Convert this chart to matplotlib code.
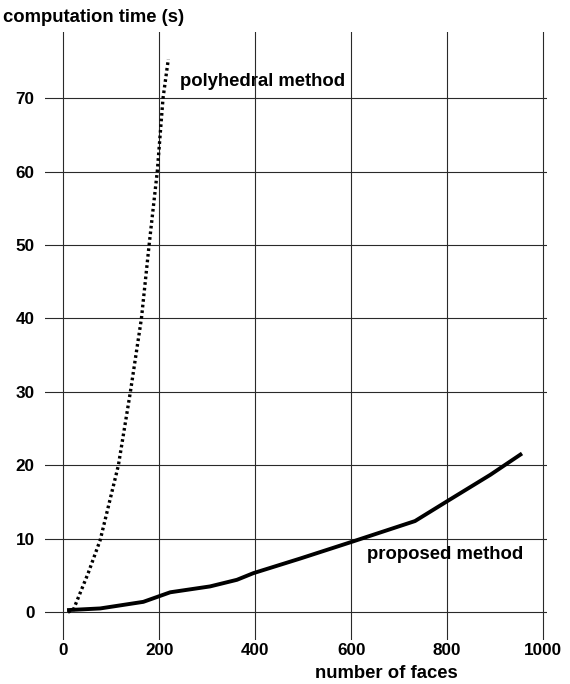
import matplotlib.pyplot as plt

# values
poly_x = [10, 21, 52, 77, 115, 140, 163, 179, 196, 208, 219]
poly_y = [0, 0.3, 5.3, 9.8, 20, 30, 40, 50, 60, 70, 75.3]

prop_x = [8, 77, 167, 223, 306, 362, 396, 494, 598, 733, 800, 890, 956]
prop_y = [0.27, 0.5, 1.4, 2.7, 3.5, 4.4, 5.3, 7.3, 9.5, 12.4, 15.1, 18.7, 21.6]

x_ticks = [0, 200, 400, 600, 800, 1000]
y_ticks = [0, 10, 20, 30, 40, 50, 60, 70]

plt.rcParams['font.family'] = ['Liberation Sans', 'DejaVu Sans']
plt.rcParams['font.weight'] = 'bold'

fig = plt.figure(figsize=(5.7, 6.84), dpi=100)
ax = fig.add_axes([0.0789, 0.0643, 0.8807, 0.8889])

ax.plot(poly_x, poly_y, color='black', linestyle=(0, (0.8, 0.9)), linewidth=2.4)
ax.plot(prop_x, prop_y, color='black', linestyle='-', linewidth=2.8, solid_capstyle='butt')

ax.set_xlim(-38, 1008)
ax.set_ylim(-3.8, 79)
ax.set_xticks(x_ticks)
ax.set_yticks(y_ticks)
ax.grid(True, color='#2a2a2a', linewidth=0.8)
ax.set_axisbelow(True)
for s in ax.spines.values():
    s.set_visible(False)
ax.tick_params(axis='both', length=0, labelsize=12.3)
ax.tick_params(axis='y', pad=7.5)
ax.tick_params(axis='x', pad=2)

ax.text(244, 72.2, 'polyhedral method', fontsize=13.3, fontweight='bold', va='center')
ax.text(633, 7.8, 'proposed method', fontsize=13.3, fontweight='bold', va='center')

fig.text(0.005, 1 - 18 / 684, 'computation time (s)', fontsize=13.3, fontweight='bold', va='center')
fig.text(386 / 570, 1 - 674 / 684, 'number of faces', fontsize=13.3, fontweight='bold', ha='center', va='center')

fig.savefig('out.png', dpi=100)
